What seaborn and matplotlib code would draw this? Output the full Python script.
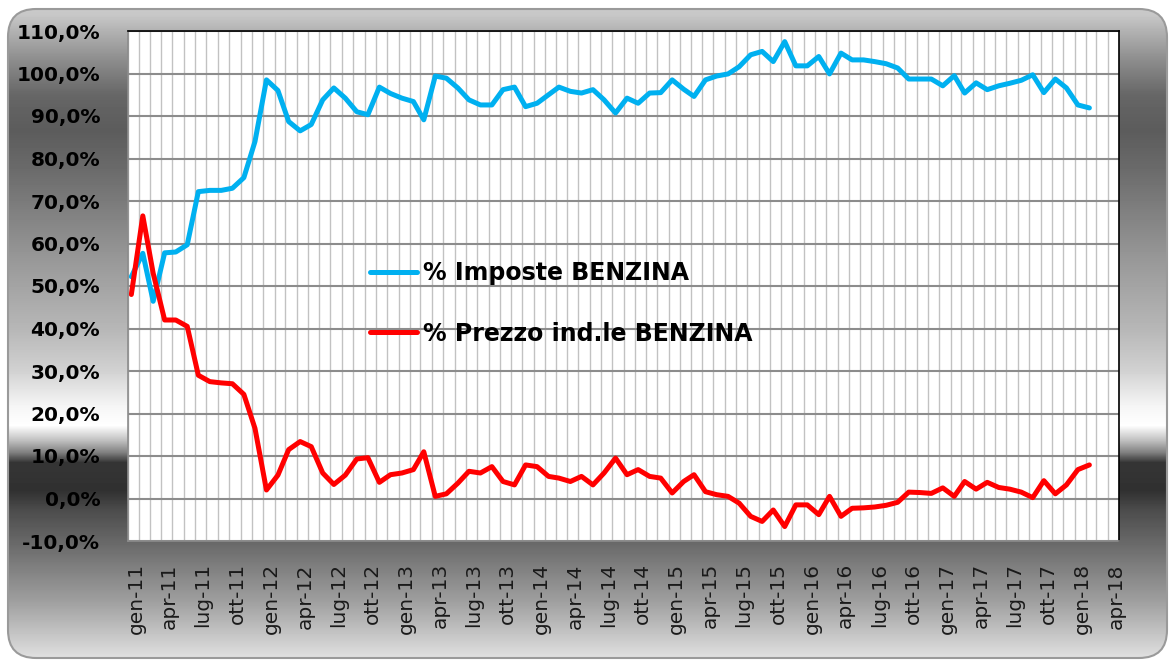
import numpy as np
import pandas as pd
import matplotlib
matplotlib.use("Agg")
import matplotlib.pyplot as plt
import matplotlib.dates as mdates
from matplotlib.patches import FancyBboxPatch
from matplotlib.ticker import FuncFormatter, MultipleLocator
from matplotlib.transforms import ScaledTranslation
import seaborn as sns

# monthly series, gen-11 .. feb-18 (percent)
imposte_benzina = [
    52.2, 57.7, 46.4, 57.8, 58.0, 59.7, 72.2, 72.5, 72.5, 73.0, 75.5, 84.0,
    98.5, 96.0, 88.7, 86.5, 88.0, 93.8, 96.6, 94.2, 91.0, 90.3, 96.8, 95.3,
    94.2, 93.4, 89.1, 99.4, 98.9, 96.6, 93.8, 92.6, 92.6, 96.2, 96.8, 92.2,
    93.0, 95.0, 96.8, 95.8, 95.4, 96.2, 93.8, 90.7, 94.2, 93.0, 95.4, 95.5,
    98.5, 96.3, 94.6, 98.5, 99.4, 99.9, 101.6, 104.4, 105.2, 102.8, 107.5, 101.8,
    101.8, 104.0, 99.9, 104.8, 103.2, 103.2, 102.8, 102.3, 101.3, 98.7, 98.7, 98.7,
    97.1, 99.5, 95.4, 97.8, 96.2, 97.1, 97.7, 98.4, 99.7, 95.5, 98.7, 96.6,
    92.6, 91.9,
]
prezzo_industriale = [
    48.0, 66.5, 53.0, 42.0, 42.0, 40.5, 29.0, 27.5, 27.2, 27.0, 24.5, 16.5,
    2.0, 5.5, 11.5, 13.4, 12.2, 6.0, 3.3, 5.5, 9.3, 9.6, 3.8, 5.6,
    6.0, 6.8, 11.0, 0.5, 1.1, 3.6, 6.4, 6.0, 7.5, 4.0, 3.2, 7.9,
    7.5, 5.2, 4.8, 4.0, 5.2, 3.2, 6.0, 9.5, 5.6, 6.8, 5.2, 4.8,
    1.3, 4.0, 5.6, 1.6, 0.9, 0.5, -1.1, -4.2, -5.4, -2.7, -6.6, -1.5,
    -1.5, -3.8, 0.5, -4.2, -2.3, -2.2, -2.0, -1.6, -0.9, 1.5, 1.4, 1.2,
    2.5, 0.5, 4.0, 2.2, 3.8, 2.6, 2.2, 1.5, 0.2, 4.2, 1.1, 3.2,
    6.8, 7.9,
]
serie_nomi = ["% Imposte BENZINA", "% Prezzo ind.le BENZINA"]
colori = ["#00B0F0", "#FF0000"]
mesi_tick = ["gen", "apr", "lug", "ott"]

date = pd.date_range("2011-01-01", periods=len(imposte_benzina), freq="MS") + pd.Timedelta(days=9)
df = pd.DataFrame({
    "data": list(date) * 2,
    "valore": imposte_benzina + prezzo_industriale,
    "serie": [serie_nomi[0]] * len(date) + [serie_nomi[1]] * len(date),
})

sns.set_style("white")
plt.rcParams["font.family"] = ["DejaVu Sans"]
plt.rcParams["text.color"] = "black"

W, H = 1174, 662
fig = plt.figure(figsize=(W / 100, H / 100), dpi=100, facecolor="white")

# gradient background with rounded frame
bg = fig.add_axes([0, 0, 1, 1], zorder=-10)
gy = [0, 15, 30, 60, 95, 130, 170, 250, 330, 370, 405, 425, 440, 452, 462, 490, 510, 545, 600, 662]
gv = [0.80, 0.78, 0.70, 0.55, 0.40, 0.36, 0.42, 0.58, 0.72, 0.82, 0.96, 1.0, 0.75, 0.5, 0.21, 0.19, 0.30, 0.42, 0.62, 0.90]
col = np.interp(np.arange(H), gy, gv)[:, None] * np.ones((1, 4))
im = bg.imshow(col, extent=[0, W, H, 0], aspect="auto", cmap="gray", vmin=0, vmax=1)
bg.set_xlim(0, W)
bg.set_ylim(H, 0)
frame = FancyBboxPatch((8, 9), W - 15, H - 13, boxstyle="round,pad=0,rounding_size=28",
                       transform=bg.transData, facecolor="none", edgecolor="#9a9a9a", lw=1.5)
bg.add_patch(frame)
im.set_clip_path(frame)
bg.axis("off")

ax = fig.add_axes([128 / W, 1 - 541 / H, (1119 - 128) / W, (541 - 31) / H])
ax.set_facecolor("white")

sns.lineplot(data=df, x="data", y="valore", hue="serie", palette=colori,
             linewidth=3.6, ax=ax, legend=True)

ax.set_xlim(pd.Timestamp("2011-01-01"), pd.Timestamp("2018-05-01"))
ax.set_ylim(-10, 110)
ax.yaxis.set_major_locator(MultipleLocator(10))
ax.yaxis.set_major_formatter(FuncFormatter(lambda v, p: f"{v:.1f}%".replace(".", ",")))

tick_date = pd.date_range("2011-01-01", "2018-04-01", freq="QS")
ax.set_xticks(tick_date)
ax.set_xticklabels([f"{mesi_tick[(d.month - 1) // 3]}-{d.year % 100:02d}" for d in tick_date])
ax.xaxis.set_minor_locator(mdates.MonthLocator())

ax.grid(axis="x", which="both", color="#c2c2c2", lw=1.0)
ax.grid(axis="y", which="major", color="#8c8c8c", lw=1.5)
ax.set_axisbelow(True)

ax.tick_params(axis="y", length=7, width=1.2, color="#8c8c8c", pad=13,
               labelsize=14.5, labelcolor="black")
ax.tick_params(axis="x", which="major", length=7, width=1.2, color="#b4b4b4", pad=9,
               labelsize=14.5, labelcolor="#1a1a1a", labelrotation=90)
ax.tick_params(axis="x", which="minor", length=0)
for lbl in ax.get_yticklabels():
    lbl.set_fontweight("bold")
shift = ScaledTranslation(8 / 100, 0, fig.dpi_scale_trans)
for lbl in ax.get_xticklabels():
    lbl.set_transform(lbl.get_transform() + shift)
ax.set_xlabel("")
ax.set_ylabel("")

for s in ["top", "right"]:
    ax.spines[s].set_color("black")
    ax.spines[s].set_linewidth(1.2)
for s in ["left", "bottom"]:
    ax.spines[s].set_color("#8c8c8c")
    ax.spines[s].set_linewidth(1.2)

handles, labels = ax.get_legend_handles_labels()
leg = ax.legend(handles, labels, loc="upper left", bbox_to_anchor=(370 / W, 1 - 261 / H),
                bbox_transform=fig.transFigure, frameon=False, borderpad=0, borderaxespad=0,
                handlelength=2.0, handletextpad=0.25, labelspacing=1.55,
                prop={"weight": "bold", "size": 17})
for t in leg.get_texts():
    t.set_color("black")
for ln in leg.get_lines():
    ln.set_linewidth(3.6)

fig.savefig("out.png", dpi=100, facecolor="white")
